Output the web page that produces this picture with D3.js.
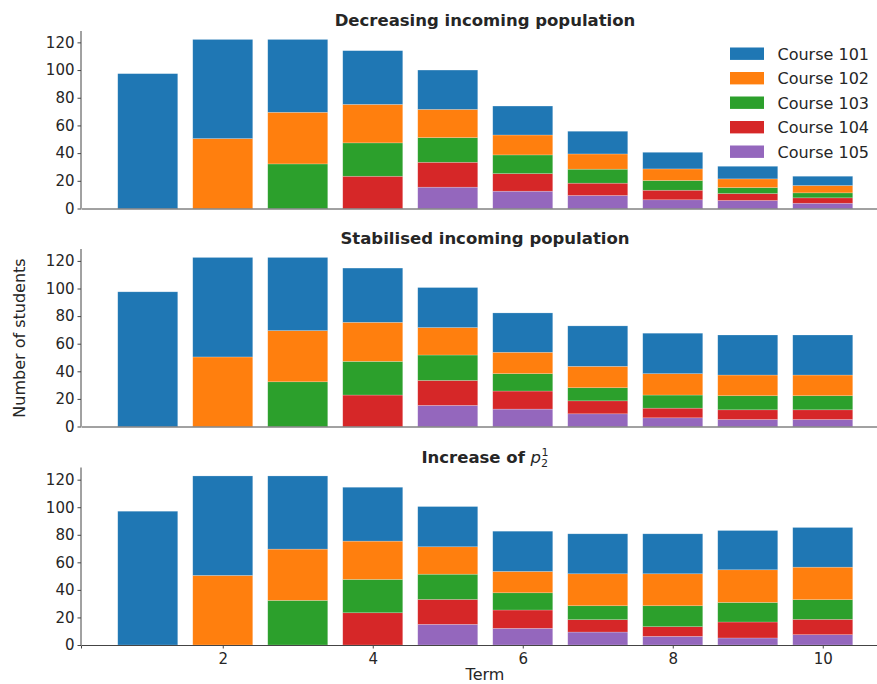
<!DOCTYPE html>
<html>
<head>
<meta charset="utf-8">
<style>
  body { margin: 0; background: #fff; }
  text { font-family: "DejaVu Sans", sans-serif; fill: #262626; }
</style>
</head>
<body>
<svg width="877" height="684"></svg>
<script src="https://cdn.jsdelivr.net/npm/d3@7"></script>
<script>

// terms on the x axis
var terms = [1, 2, 3, 4, 5, 6, 7, 8, 9, 10];
var courses = ["Course 101", "Course 102", "Course 103", "Course 104", "Course 105"];
var colors = ["#1f77b4", "#ff7f0e", "#2ca02c", "#d62728", "#9467bd"];
var yTicks = [0, 20, 40, 60, 80, 100, 120];
var xTicks = [2, 4, 6, 8, 10];
var titles = ["Decreasing incoming population", "Stabilised incoming population", "Increase of "];

// students per course and term (segment heights)
var decreasing101 = [97.4, 71.6, 52.6, 38.8, 28.4, 20.9, 16.4, 12.0, 9.1, 6.7];
var decreasing102 = [0, 50.5, 37.3, 27.8, 20.4, 14.4, 11.0, 8.4, 6.3, 5.3];
var decreasing103 = [0, 0, 32.2, 24.1, 17.8, 13.5, 10.1, 7.0, 4.3, 3.6];
var decreasing104 = [0, 0, 0, 23.3, 18.0, 12.7, 8.9, 6.9, 5.0, 3.9];
var decreasing105 = [0, 0, 0, 0, 15.4, 12.5, 9.4, 6.3, 5.8, 3.8];

var stable101 = [97.6, 72.1, 53.0, 39.3, 29.0, 28.5, 29.3, 29.3, 29.0, 29.0];
var stable102 = [0, 50.4, 37.1, 28.3, 19.9, 15.5, 15.5, 15.5, 15.0, 15.0];
var stable103 = [0, 0, 32.4, 24.4, 18.4, 12.6, 9.5, 9.5, 10.2, 10.2];
var stable104 = [0, 0, 0, 22.8, 18.1, 13.1, 9.4, 7.0, 7.0, 7.0];
var stable105 = [0, 0, 0, 0, 15.3, 12.6, 9.2, 6.3, 5.1, 5.1];

var increase101 = [97.1, 72.2, 53.1, 39.1, 29.2, 29.2, 29.0, 29.0, 28.5, 28.8];
var increase102 = [0, 50.5, 37.2, 27.8, 19.9, 15.5, 23.2, 23.2, 23.7, 23.6];
var increase103 = [0, 0, 32.4, 24.2, 18.3, 12.5, 10.1, 15.2, 14.2, 14.3];
var increase104 = [0, 0, 0, 23.4, 18.1, 13.3, 9.0, 7.0, 11.6, 11.1];
var increase105 = [0, 0, 0, 0, 15.0, 12.1, 9.4, 6.3, 5.1, 7.5];

var panels = [
  [decreasing101, decreasing102, decreasing103, decreasing104, decreasing105],
  [stable101, stable102, stable103, stable104, stable105],
  [increase101, increase102, increase103, increase104, increase105]
];

var svg = d3.select("svg");
var left = 81, plotH = 177.5;
var tops = [31, 249, 467.5];

var x = d3.scaleLinear().domain([0.11, 10.89]).range([left, 889.5]);
var barW = x(0.8) - x(0);

panels.forEach(function(series, p) {
  var rows = terms.map(function(t, i) {
    var r = {term: t};
    courses.forEach(function(c, k) { r[c] = series[k][i]; });
    return r;
  });
  // purple at the bottom, blue on top
  var stack = d3.stack().keys(courses.slice().reverse())(rows);
  var maxTotal = d3.max(rows, function(r) { return d3.sum(courses, function(c) { return r[c]; }); });

  var top = tops[p], bottom = top + plotH;
  var y = d3.scaleLinear().domain([0, maxTotal * 1.05]).range([bottom, top]);
  var g = svg.append("g");

  stack.forEach(function(layer) {
    var col = colors[courses.indexOf(layer.key)];
    g.selectAll(null).data(layer.filter(function(d) { return d[1] - d[0] > 0; }))
      .enter().append("rect")
      .attr("x", function(d) { return x(d.data.term) - barW / 2; })
      .attr("width", barW)
      .attr("y", function(d) { return y(d[1]); })
      .attr("height", function(d) { return y(d[0]) - y(d[1]); })
      .attr("fill", col)
      .attr("stroke", "#fff").attr("stroke-opacity", 0.35).attr("stroke-width", 0.6);
  });

  var yAxis = g.append("g").attr("transform", "translate(" + left + ",0)")
    .call(d3.axisLeft(y).tickValues(yTicks).tickSize(3.5).tickPadding(3));
  yAxis.select(".domain").attr("d", "M0," + top + "V" + bottom);
  yAxis.selectAll("text").style("font-size", "15px").attr("fill", "#262626");

  var xAxis = g.append("g").attr("transform", "translate(0," + bottom + ")")
    .call(d3.axisBottom(x).tickValues(p === 2 ? xTicks : []).tickSize(p === 2 ? 3.5 : 0).tickPadding(5));
  xAxis.selectAll("text").style("font-size", "15px").attr("fill", "#262626");
  svg.selectAll(".domain, .tick line").attr("stroke", "#444");

  var t = g.append("text").attr("x", 485).attr("y", top - 5)
    .attr("text-anchor", "middle").style("font-size", "16.5px").style("font-weight", "bold")
    .text(titles[p]);
  if (p === 2) {
    t.append("tspan").style("font-style", "italic").style("font-weight", "normal").text("p");
    t.append("tspan").attr("dy", 4).style("font-size", "11px").style("font-weight", "normal").text("2");
    t.append("tspan").attr("dx", -6.5).attr("dy", -11).style("font-size", "11px").style("font-weight", "normal").text("1");
  }
});

// legend in the first panel
var legend = svg.append("g");
courses.forEach(function(c, k) {
  var cy = 53.7 + k * 24.5;
  legend.append("rect").attr("x", 730).attr("y", cy - 6.2).attr("width", 34).attr("height", 12.4)
    .attr("fill", colors[k]);
  legend.append("text").attr("x", 777.5).attr("y", cy + 5.8).style("font-size", "16px").text(c);
});

svg.append("text").attr("transform", "translate(25,338) rotate(-90)")
  .attr("text-anchor", "middle").style("font-size", "16px").text("Number of students");
svg.append("text").attr("x", 485).attr("y", 680)
  .attr("text-anchor", "middle").style("font-size", "16px").text("Term");

</script>
</body>
</html>
